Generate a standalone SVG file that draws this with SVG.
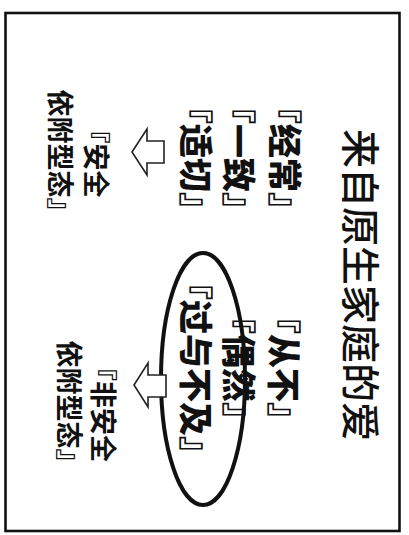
<svg xmlns="http://www.w3.org/2000/svg" width="409" height="535" viewBox="0 0 409 535">
<style>
text{font-family:"Noto Sans CJK SC","Noto Sans CJK JP",sans-serif;fill:#111;text-anchor:middle;dominant-baseline:central}
.t{font-size:39px;font-weight:500}
.k{font-size:34px;font-weight:900}
.s{font-size:27px;font-weight:700}
.arrow{fill:#fff;stroke:#222;stroke-width:1.6;stroke-linejoin:miter}
</style>
<rect x="0" y="0" width="409" height="535" fill="#fff"/>
<rect id="frame" x="5.5" y="13" width="394" height="518" fill="none" stroke="#111" stroke-width="2.6"/>
<g transform="translate(409,0) rotate(90)">
  <g id="title"><text class="t" x="285" y="46">来自原生家庭的爱</text></g>
  <g id="left-items">
    <text class="k" x="158" y="123">『经常』</text>
    <text class="k" x="158" y="169">『一致』</text>
    <text class="k" x="158" y="212">『适切』</text>
  </g>
  <g id="right-items">
    <text class="k" x="368" y="124">『从不』</text>
    <text class="k" x="368" y="169">『偶然』</text>
    <text class="k" x="368" y="212">『过与不及』</text>
    <ellipse cx="379" cy="206" rx="126" ry="42" fill="none" stroke="#111" stroke-width="4"/>
  </g>
  <g id="connectors">
    <path class="arrow" d="M141,245 H163 V262 H175 L152,277 L129,262 H141 Z"/>
    <path class="arrow" d="M375,243 H397 V261 H407 L385,275 L363,261 H375 Z"/>
  </g>
  <g id="secure">
    <text class="s" x="157" y="312">『安全</text>
    <text class="s" x="157" y="348">依附型态』</text>
  </g>
  <g id="insecure">
    <text class="s" x="408" y="305">『非安全</text>
    <text class="s" x="408" y="339">依附型态』</text>
  </g>
</g>
</svg>
